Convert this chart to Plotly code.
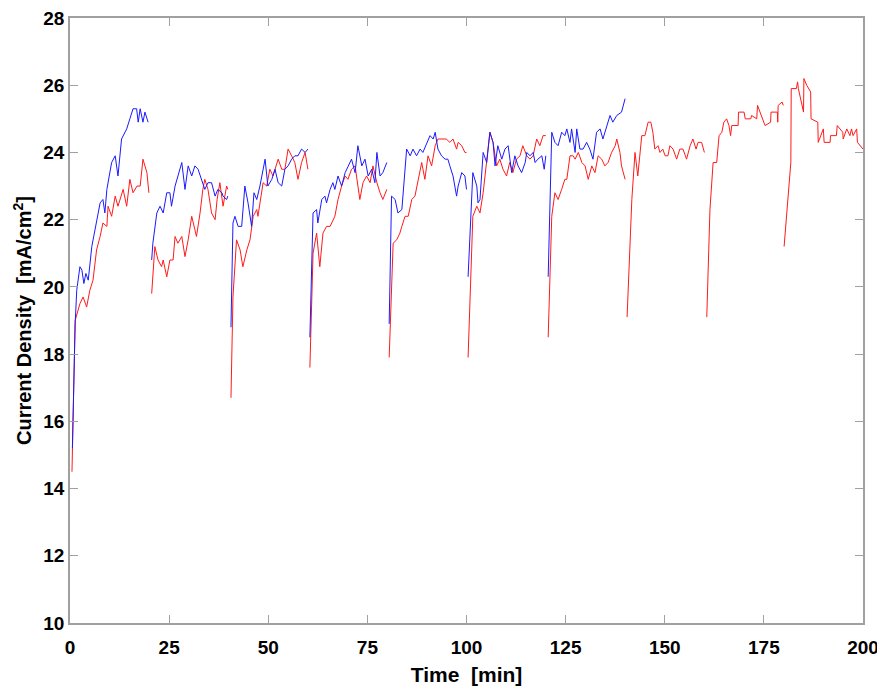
import plotly.graph_objects as go

# ---- Data (time in min, current density in mA/cm^2), one list per 20-min run ----
blue_t = [
    [0.6, 1.0, 1.3, 1.7, 2.5, 3.0, 3.5, 4.0, 4.6, 5.5, 6.2, 6.7, 7.6, 8.3, 8.8, 9.3, 10.5, 11.4, 12.1, 13.0, 14.3, 15.1, 15.9, 16.8, 17.2, 17.7, 18.4, 18.9, 19.7],
    [20.6, 20.9, 21.9, 22.7, 23.5, 24.4, 25.2, 25.6, 26.5, 27.2, 28.2, 29.0, 29.8, 30.7, 31.5, 32.3, 33.2, 34.0, 34.8, 35.7, 36.6, 37.3, 38.3, 38.6, 39.5, 39.8],
    [40.6, 41.1, 41.6, 42.4, 43.3, 44.1, 44.9, 45.8, 46.4, 47.1, 47.9, 49.2, 49.9, 50.9, 51.7, 52.5, 53.4, 54.2, 55.0, 55.9, 56.7, 57.5, 58.4, 59.3, 60.0],
    [60.5, 61.3, 62.2, 62.5, 63.5, 64.3, 64.7, 65.6, 66.3, 66.8, 67.6, 68.5, 69.4, 70.1, 71.0, 71.9, 72.6, 73.6, 74.4, 75.2, 76.1, 76.9, 77.4, 78.2, 78.9, 79.9],
    [80.5, 81.1, 82.0, 82.7, 83.7, 84.5, 84.9, 85.8, 86.5, 87.4, 88.3, 89.0, 90.0, 90.8, 91.6, 92.1, 92.8, 93.7, 94.6, 95.3, 95.8, 96.6, 97.5, 97.9, 98.8, 99.6, 100.0],
    [100.4, 101.3, 101.6, 102.6, 102.9, 103.4, 104.2, 105.1, 105.9, 106.7, 107.2, 107.9, 108.9, 109.7, 110.5, 111.4, 112.2, 113.0, 113.9, 114.8, 115.2, 116.0, 116.8, 117.3, 118.0, 119.0, 119.6, 120.0],
    [120.6, 121.5, 122.3, 123.1, 124.0, 124.8, 125.3, 126.1, 126.5, 127.4, 127.8, 128.6, 129.4, 130.3, 131.1, 131.9, 132.8, 133.7, 134.4, 135.4, 136.2, 136.9, 137.9, 139.1, 140.0],
]
blue_j = [
    [15.2, 17.5, 18.9, 19.9, 20.6, 20.5, 20.1, 20.4, 20.2, 21.2, 21.6, 21.9, 22.5, 22.6, 22.2, 22.9, 23.7, 23.9, 23.3, 24.4, 24.7, 25.0, 25.3, 25.3, 24.9, 25.3, 24.9, 25.2, 24.9],
    [20.8, 21.3, 22.2, 22.4, 22.2, 22.8, 22.8, 22.4, 23.0, 23.3, 23.7, 22.9, 23.6, 23.3, 23.6, 23.5, 23.2, 22.9, 23.1, 23.1, 22.7, 22.9, 22.8, 22.7, 22.6, 22.7],
    [18.8, 21.9, 22.1, 21.8, 21.8, 23.0, 22.5, 21.8, 22.8, 22.6, 23.0, 23.8, 23.0, 23.2, 23.5, 23.1, 23.0, 23.5, 23.6, 23.8, 23.9, 23.9, 24.1, 24.0, 24.1],
    [18.5, 22.2, 22.3, 21.9, 22.6, 22.7, 22.5, 22.9, 23.1, 22.9, 23.3, 23.0, 23.4, 23.6, 23.8, 23.4, 24.2, 23.6, 23.8, 23.3, 23.5, 23.1, 24.0, 23.3, 23.4, 23.7],
    [18.9, 22.7, 22.6, 22.2, 22.3, 23.4, 24.1, 23.9, 24.1, 23.9, 24.1, 24.0, 24.3, 24.5, 24.4, 24.6, 24.1, 23.9, 23.8, 23.8, 23.6, 23.3, 22.7, 23.0, 23.4, 23.3, 22.9],
    [20.3, 22.8, 23.4, 23.0, 22.5, 22.6, 24.0, 23.7, 24.6, 24.3, 23.6, 24.2, 23.8, 24.1, 24.2, 23.4, 23.9, 23.6, 23.4, 23.7, 24.0, 23.9, 24.0, 23.7, 23.8, 23.9, 23.5, 23.9],
    [20.3, 24.6, 24.3, 24.2, 24.6, 24.5, 24.7, 24.3, 24.7, 24.0, 24.7, 24.1, 24.1, 24.3, 24.1, 23.8, 24.6, 24.7, 24.4, 24.8, 25.1, 24.9, 25.1, 25.2, 25.6],
]

red_t = [
    [0.5, 1.0, 1.3, 2.5, 3.3, 4.2, 5.0, 5.8, 6.7, 7.6, 8.3, 9.3, 9.6, 10.5, 11.4, 12.1, 13.4, 14.3, 15.1, 15.9, 16.9, 17.7, 18.4, 19.4, 19.9],
    [20.6, 21.4, 22.2, 23.1, 23.5, 24.4, 25.2, 26.0, 26.5, 27.2, 28.2, 29.0, 29.8, 30.7, 31.5, 31.9, 32.8, 33.5, 34.0, 34.8, 35.7, 36.6, 37.1, 37.8, 38.6, 39.5, 39.8],
    [40.6, 41.1, 42.0, 42.9, 43.6, 44.6, 45.4, 46.2, 47.1, 47.4, 48.7, 49.6, 50.4, 51.2, 52.5, 53.4, 54.2, 55.0, 55.9, 56.7, 57.5, 58.4, 59.3, 60.0],
    [60.5, 61.3, 62.2, 63.0, 63.8, 64.7, 65.6, 66.8, 67.6, 68.5, 69.4, 70.1, 71.0, 71.9, 73.1, 73.9, 74.8, 75.7, 76.4, 77.4, 78.2, 78.9, 79.9],
    [80.5, 81.5, 82.4, 83.2, 83.7, 84.5, 85.3, 86.2, 87.0, 87.8, 88.7, 89.5, 90.3, 91.2, 92.1, 92.8, 93.7, 94.9, 95.8, 96.6, 97.5, 97.9, 98.8, 99.6, 100.0],
    [100.4, 101.6, 102.6, 103.4, 104.2, 105.1, 105.9, 106.7, 107.6, 108.4, 109.2, 110.1, 110.9, 111.7, 112.6, 113.5, 114.2, 115.2, 116.0, 116.8, 117.7, 118.5, 119.3, 120.0],
    [120.6, 121.5, 122.3, 123.1, 124.0, 124.8, 125.3, 126.1, 126.9, 127.4, 128.2, 129.1, 129.9, 130.7, 131.6, 132.4, 133.2, 134.1, 134.9, 135.7, 136.6, 137.5, 137.9, 138.7, 139.1, 140.0],
    [140.5, 141.7, 142.5, 143.2, 144.2, 145.0, 145.8, 146.5, 147.0, 147.5, 148.3, 148.8, 149.5, 150.1, 150.8, 151.3, 152.1, 153.0, 153.8, 154.6, 155.5, 156.4, 157.1, 157.9, 158.4, 159.3, 160.0],
    [160.6, 161.4, 162.2, 163.1, 163.7, 164.4, 164.9, 165.6, 166.2, 166.6, 166.9, 168.5, 168.6, 170.0, 170.3, 171.7, 171.9, 173.2, 173.4, 174.4, 175.1, 175.3, 176.7, 176.8, 178.4, 178.5, 178.6, 179.6, 179.9],
    [180.1, 181.8, 181.9, 183.2, 183.5, 183.7, 185.0, 185.1, 185.8, 186.8, 186.9, 188.3, 188.6, 188.7, 190.0, 190.2, 191.7, 191.8, 193.3, 193.5, 194.9, 195.0, 195.9, 196.7, 197.1, 197.5, 198.4, 198.6, 200.0],
]
red_j = [
    [14.5, 17.5, 19.0, 19.5, 19.7, 19.4, 19.9, 20.2, 21.1, 21.5, 21.9, 21.8, 22.4, 22.1, 22.7, 22.4, 22.9, 22.4, 23.2, 22.8, 23.0, 23.0, 23.8, 23.4, 22.8],
    [19.8, 21.2, 20.8, 20.6, 20.8, 20.3, 20.8, 20.8, 21.5, 21.3, 21.5, 20.9, 21.4, 22.1, 21.7, 21.5, 22.2, 22.9, 23.2, 22.9, 22.2, 22.0, 22.6, 23.1, 22.4, 23.0, 22.9],
    [16.7, 19.7, 21.4, 21.1, 20.6, 21.1, 21.4, 22.1, 22.3, 22.1, 23.1, 23.0, 23.5, 23.3, 23.8, 23.5, 23.5, 24.1, 23.9, 23.7, 23.2, 23.7, 24.0, 23.5],
    [17.6, 21.0, 21.6, 20.6, 21.6, 21.8, 21.8, 22.1, 22.6, 23.0, 23.3, 23.2, 23.5, 23.6, 22.6, 23.1, 23.3, 23.1, 23.6, 23.1, 22.8, 22.6, 22.9],
    [17.9, 21.3, 21.4, 21.6, 21.8, 22.1, 22.1, 22.6, 22.7, 23.2, 23.7, 23.2, 23.9, 23.6, 24.2, 24.4, 24.4, 24.4, 24.3, 24.4, 24.1, 24.3, 24.2, 24.0, 24.0],
    [17.9, 22.1, 22.4, 22.2, 22.8, 23.8, 24.6, 24.3, 23.6, 23.8, 23.5, 23.3, 23.7, 23.4, 23.8, 23.9, 24.2, 23.9, 23.8, 23.9, 24.4, 24.2, 24.5, 24.5],
    [18.5, 22.1, 22.8, 22.6, 22.9, 23.2, 23.2, 23.9, 23.9, 23.8, 24.0, 23.7, 23.6, 23.2, 23.6, 23.4, 23.9, 23.8, 23.6, 23.7, 24.0, 24.2, 24.4, 24.0, 23.6, 23.2],
    [19.1, 22.6, 24.0, 23.3, 24.5, 24.5, 24.9, 24.9, 24.6, 24.1, 24.2, 24.0, 24.1, 23.9, 23.9, 24.2, 24.1, 23.8, 24.1, 24.1, 23.8, 24.2, 24.4, 24.1, 24.3, 24.3, 24.0],
    [19.1, 22.3, 23.7, 23.7, 24.5, 24.6, 24.9, 25.0, 24.8, 24.5, 24.8, 24.8, 25.2, 25.2, 25.0, 25.0, 25.1, 25.0, 25.4, 25.1, 24.9, 24.8, 24.9, 25.2, 25.2, 24.9, 25.4, 25.5, 25.4],
    [21.2, 23.7, 25.9, 25.9, 26.1, 25.9, 25.2, 26.2, 26.0, 25.8, 25.0, 24.9, 24.9, 24.3, 24.7, 24.3, 24.3, 24.5, 24.5, 24.8, 24.6, 24.4, 24.7, 24.5, 24.7, 24.5, 24.7, 24.3, 24.1],
]

x_ticks = [0, 25, 50, 75, 100, 125, 150, 175, 200]
y_ticks = [10, 12, 14, 16, 18, 20, 22, 24, 26, 28]


def join(segs):
    out = []
    for i, s in enumerate(segs):
        if i:
            out.append(None)
        out.extend(s)
    return out


FONT = "Liberation Sans, Arial, sans-serif"

fig = go.Figure()
fig.add_trace(go.Scatter(x=join(red_t), y=join(red_j), mode="lines",
                         line=dict(color="#ff1a1a", width=1), connectgaps=False,
                         showlegend=False))
fig.add_trace(go.Scatter(x=join(blue_t), y=join(blue_j), mode="lines",
                         line=dict(color="#1a1aff", width=1), connectgaps=False,
                         showlegend=False))

axis_common = dict(showline=True, linecolor="#a0a0a0", linewidth=1.5, mirror="ticks",
                   ticks="inside", ticklen=8, tickcolor="#a0a0a0", tickwidth=1,
                   showgrid=False, zeroline=False, automargin=False,
                   ticklabeloverflow="allow",
                   tickfont=dict(family=FONT, size=19, color="#000", weight="bold"))

fig.update_xaxes(range=[0, 200], tickvals=x_ticks, ticktext=[str(v) for v in x_ticks],
                 ticklabelstandoff=6,
                 title=dict(text="<b>Time  [min]</b>", standoff=11,
                            font=dict(family=FONT, size=21, color="#000")),
                 **axis_common)
fig.update_yaxes(range=[10, 28], tickvals=y_ticks, ticktext=[str(v) for v in y_ticks],
                 title=dict(text="<b>Current Density  [mA/cm<sup>2</sup>]</b>", standoff=6,
                            font=dict(family=FONT, size=20, color="#000")),
                 **axis_common)

# the page body has an 8px margin, so the figure is sized/offset to compensate
fig.update_layout(width=877, height=680, margin=dict(l=62, r=22, t=10, b=65),
                  paper_bgcolor="white", plot_bgcolor="white")

fig.write_html("out.html")
